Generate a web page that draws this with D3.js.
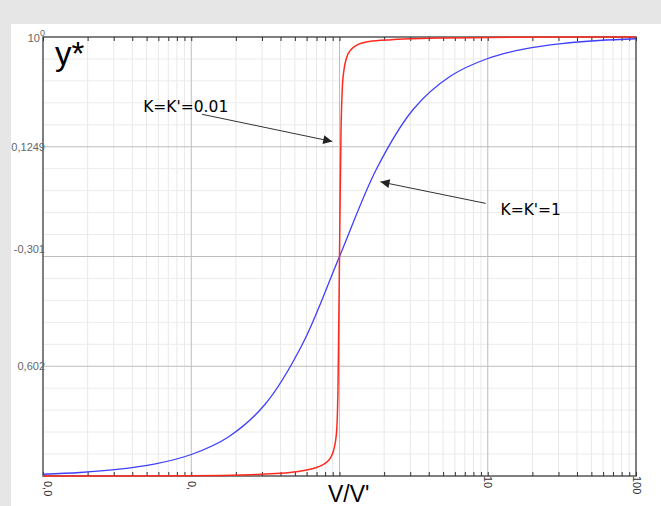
<!DOCTYPE html>
<html>
<head>
<meta charset="utf-8">
<script src="https://cdn.jsdelivr.net/npm/d3@7"></script>
<style>
  html, body { margin: 0; padding: 0; background: #e6e6e6; }
  svg { display: block; }
</style>
</head>
<body>
<svg id="chart" width="661" height="506"></svg>
<script>
// ---- data ----
const xTicks = [0.01, 0.1, 1, 10, 100];
const xTickLabels = ["0,0", "0,", "", "10", "100"];
const yGridMajor = [0.25, 0.5, 0.75];
const yTickLabels = ["0,602", "-0,301", "0,1249"];

// K=K'=1 (blue)
const blueX = [0.01, 0.0178, 0.0316, 0.0562, 0.1, 0.178, 0.316, 0.562, 1, 1.78, 3.16, 5.62, 10, 17.8, 31.6, 56.2, 100];
const blueY = [0.004, 0.008, 0.015, 0.027, 0.049, 0.089, 0.164, 0.30, 0.5, 0.70, 0.836, 0.911, 0.951, 0.973, 0.985, 0.992, 0.996];

// K=K'=0.01 (red)
const redX = [0.01, 0.1, 0.251, 0.398, 0.562, 0.708, 0.794, 0.871, 0.912, 0.955, 0.977, 1, 1.023, 1.047, 1.072, 1.122, 1.202, 1.318, 1.585, 2.239, 3.981, 10, 100];
const redY = [0.0, 0.0005, 0.003, 0.006, 0.012, 0.02, 0.028, 0.042, 0.058, 0.10, 0.2, 0.5, 0.78, 0.89, 0.925, 0.955, 0.972, 0.982, 0.99, 0.994, 0.997, 0.999, 1.0];

const labels = [
  { text: "K=K'=0.01", x: 0.0474, y: 0.829, from: [0.118, 0.824], to: [0.893, 0.762] },
  { text: "K=K'=1", x: 12.2, y: 0.595, from: [9.69, 0.621], to: [1.89, 0.670] }
];

// ---- drawing ----
const svg = d3.select("#chart");
const W = 661, H = 506;
const L = 43, R = 636, T = 37, B = 476;

svg.append("rect").attr("x", 0).attr("y", 0).attr("width", W).attr("height", H).attr("fill", "#e6e6e6");
svg.append("rect").attr("x", 11).attr("y", 24).attr("width", W - 11).attr("height", H - 24).attr("fill", "#ffffff");

const x = d3.scaleLog().domain([0.01, 100]).range([L, R]);
const y = d3.scaleLinear().domain([0, 1]).range([B, T]);

const xMinor = [];
[0.01, 0.1, 1, 10].forEach(d => { for (let k = 2; k <= 9; k++) xMinor.push(+(d * k).toPrecision(3)); });
const yMinor = d3.range(0.05, 1.0, 0.05).filter(v => yGridMajor.every(m => Math.abs(m - v) > 1e-6));

const grid = svg.append("g");
grid.selectAll(".vminor").data(xMinor).join("line")
  .attr("x1", d => x(d)).attr("x2", d => x(d)).attr("y1", T).attr("y2", B)
  .attr("stroke", "#e8e8e8").attr("stroke-width", 1);
grid.selectAll(".hminor").data(yMinor).join("line")
  .attr("x1", L).attr("x2", R).attr("y1", d => y(d)).attr("y2", d => y(d))
  .attr("stroke", "#ececec").attr("stroke-width", 1);
grid.selectAll(".vmajor").data([0.1, 1, 10]).join("line")
  .attr("x1", d => x(d)).attr("x2", d => x(d)).attr("y1", T).attr("y2", B)
  .attr("stroke", "#bdbdbd").attr("stroke-width", 1);
grid.selectAll(".hmajor").data(yGridMajor).join("line")
  .attr("x1", L).attr("x2", R).attr("y1", d => y(d)).attr("y2", d => y(d))
  .attr("stroke", "#bdbdbd").attr("stroke-width", 1);

// frame
svg.append("rect").attr("x", L).attr("y", T).attr("width", R - L).attr("height", B - T)
  .attr("fill", "none").attr("stroke", "#555").attr("stroke-width", 1.5);

// tick marks (bottom pointing up, top pointing down)
const allTicks = xTicks.concat(xMinor).sort((a, b) => a - b);
const bottomAxis = svg.append("g").attr("transform", `translate(0,${B})`)
  .call(d3.axisBottom(x).tickValues(allTicks).tickSize(-4).tickFormat(""));
bottomAxis.select(".domain").remove();
bottomAxis.selectAll("line").attr("stroke", "#333");
const topAxis = svg.append("g").attr("transform", `translate(0,${T})`)
  .call(d3.axisTop(x).tickValues(allTicks).tickSize(-4).tickFormat(""));
topAxis.select(".domain").remove();
topAxis.selectAll("line").attr("stroke", "#333");

// x tick labels (rotated)
const xLab = svg.append("g").attr("transform", `translate(0,${B})`)
  .call(d3.axisBottom(x).tickValues(xTicks).tickSize(0).tickFormat((d, i) => xTickLabels[i]));
xLab.select(".domain").remove();
xLab.selectAll("text")
  .attr("font-family", "Liberation Sans, Arial, sans-serif").attr("font-size", 11).attr("fill", "#333")
  .attr("text-anchor", "start")
  .attr("dy", null).attr("y", 0)
  .attr("transform", (d, i) => `translate(${i === 0 ? 0 : -4},${i < 2 ? 5 : 0}) rotate(90)`);

// y tick labels
const yLab = svg.append("g").attr("transform", `translate(${L + 2},0)`)
  .call(d3.axisLeft(y).tickValues(yGridMajor).tickSize(0).tickFormat((d, i) => yTickLabels[i]));
yLab.select(".domain").remove();
yLab.selectAll("text")
  .attr("font-family", "Liberation Sans, Arial, sans-serif").attr("font-size", 11).attr("fill", "#666")
  .attr("x", 0).attr("dy", (d) => d === 0.5 ? "-0.32em" : "0.3em");
svg.append("text").attr("x", 40).attr("y", y(1) + 5)
  .attr("font-family", "Liberation Sans, Arial, sans-serif").attr("font-size", 11).attr("fill", "#666")
  .attr("text-anchor", "end").text("10");
svg.append("text").attr("x", 40).attr("y", y(1) - 1)
  .attr("font-family", "Liberation Sans, Arial, sans-serif").attr("font-size", 9).attr("fill", "#666")
  .text("0");

// curves
const blueLine = d3.line().x(d => x(d[0])).y(d => y(d[1])).curve(d3.curveCatmullRom.alpha(0.5));
const redLine = d3.line().x(d => x(d[0])).y(d => y(d[1])).curve(d3.curveMonotoneX);
svg.append("path").datum(d3.zip(blueX, blueY)).attr("d", blueLine)
  .attr("fill", "none").attr("stroke", "#3f3fff").attr("stroke-width", 1.3);
svg.append("path").datum(d3.zip(redX, redY)).attr("d", redLine)
  .attr("fill", "none").attr("stroke", "#ff2a1f").attr("stroke-width", 1.5);

// axis titles
svg.append("text").attr("x", 55).attr("y", 65)
  .attr("font-family", "Liberation Sans, Arial, sans-serif").attr("font-size", 33).attr("fill", "#000")
  .text("y*");
svg.append("text").attr("x", 328).attr("y", 502)
  .attr("font-family", "Liberation Sans, Arial, sans-serif").attr("font-size", 23).attr("fill", "#000")
  .text("V/V'");

// annotations with arrows
const defs = svg.append("defs");
defs.append("marker").attr("id", "arr").attr("viewBox", "0 0 10 10").attr("refX", 10).attr("refY", 5)
  .attr("markerWidth", 10).attr("markerHeight", 9).attr("markerUnits", "userSpaceOnUse").attr("orient", "auto")
  .append("path").attr("d", "M0,0 L10,5 L0,10 Z").attr("fill", "#222");

labels.forEach(l => {
  svg.append("text").attr("x", x(l.x)).attr("y", y(l.y))
    .attr("font-family", "DejaVu Sans, sans-serif").attr("font-size", 15.5).attr("fill", "#000")
    .text(l.text);
  svg.append("line")
    .attr("x1", x(l.from[0])).attr("y1", y(l.from[1]))
    .attr("x2", x(l.to[0])).attr("y2", y(l.to[1]))
    .attr("stroke", "#333").attr("stroke-width", 1)
    .attr("marker-end", "url(#arr)");
});
</script>
</body>
</html>
